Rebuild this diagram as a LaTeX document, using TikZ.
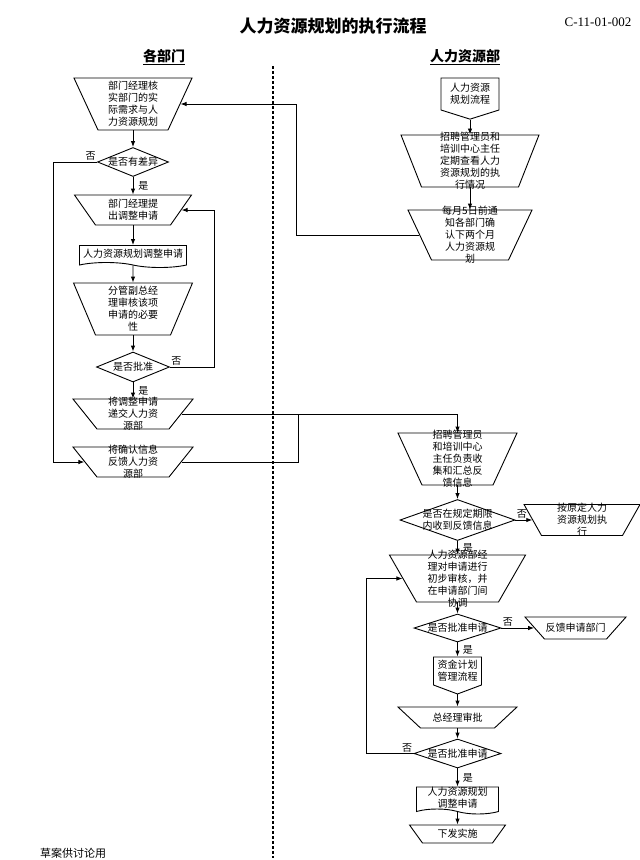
\documentclass[tikz,border=0pt]{standalone}
\usepackage{fontspec}
\setmainfont{Noto Sans CJK SC}
\newfontfamily\codefont{Liberation Serif}
\usetikzlibrary{arrows.meta,shapes.geometric,shapes.symbols}

\begin{document}
\begin{tikzpicture}[x=1pt, y=-1pt, line width=0.9pt,
  trap/.style args={#1/#2/#3}{draw, trapezium, shape border rotate=180, trapezium angle=#1, inner xsep=0.5*#2, inner ysep=0.5*#3},
  ask/.style args={#1/#2}{draw, diamond, minimum width=#1, minimum height=#2, inner sep=0pt},
  doc/.style args={#1/#2}{draw, tape, tape bend top=none, tape bend bottom=out and in, tape bend height=5pt, minimum width=#1, minimum height=#2, inner sep=0pt},
  link/.style args={#1/#2/#3}{draw, signal, signal to=south, signal from=nowhere, signal pointer angle=#1, minimum width=#2, minimum height=#3, inner sep=0pt},
  note/.style={label={[txt]center:{#1}}},
  txt/.style={align=center, inner sep=0pt, font=\fontsize{10}{12}\selectfont},
  yn/.style={font=\fontsize{10}{12}\selectfont, inner sep=1pt},
  arr/.style={-{Latex[length=6pt,width=4.5pt]}},
  head/.style={font=\bfseries\fontsize{14}{16}\selectfont}
]
\useasboundingbox (0,0) rectangle (640,860);

% Title and column heads
\node[font=\bfseries\fontsize{17}{20}\selectfont] (title) at (333,26) {人力资源规划的执行流程};
\node[font=\codefont\fontsize{13}{15}\selectfont] (code) at (598,22) {C-11-01-002};
\node[head] (deptHead) at (164,57) {\underline{各部门}};
\node[head] (hrHead) at (465,57) {\underline{人力资源部}};
\draw[dash pattern=on 3pt off 2pt, line width=1.2pt] (273,66) -- (273,858);

% Departments
\node[trap=65.2/70/52, note={部门经理核\\实部门的实\\际需求与人\\力资源规划}] (check) at (133,104) {};
\node[ask=71/29, note=是否有差异] (diff) at (133,162) {};
\node[trap=55/75/30, note={部门经理提\\出调整申请}] (propose) at (133,210) {};
\node[doc=107/22, note=人力资源规划调整申请] (form) at (133,254) {};
\node[trap=67.1/75/52, note={分管副总经\\理审核该项\\申请的必要\\性}] (vp) at (133,309) {};
\node[ask=73/30, note=是否批准] (vpOk) at (133,367) {};
\node[trap=51.3/72/30, note={将调整申请\\递交人力资\\源部}] (submit) at (133,414) {};
\node[trap=51.3/72/30, note={将确认信息\\反馈人力资\\源部}] (confirm) at (133,462) {};

% HR department
\node[link=145/58/32, note={人力资源\\规划流程}] (plan) at (470,94) {};
\node[trap=68.5/97/52, note={招聘管理员和\\培训中心主任\\定期查看人力\\资源规划的执\\行情况}] (monitor) at (470,161) {};
\node[trap=64.8/77/50, note={每月5日前通\\知各部门确\\认下两个月\\人力资源规\\划}] (notify) at (470,235) {};
\node[trap=65.2/71/52, note={招聘管理员\\和培训中心\\主任负责收\\集和汇总反\\馈信息}] (collect) at (457.5,459) {};
\node[ask=115/41, note={是否在规定期限\\内收到反馈信息}] (inTime) at (457.5,520) {};
\node[trap=60.6/81/31, note={按原定人力\\资源规划执\\行}] (keep) at (582,520) {};
\node[trap=60.1/82/47, note={人力资源部经\\理对申请进行\\初步审核，并\\在申请部门间\\协调}] (hrCheck) at (457.5,578.5) {};
\node[ask=87/28, note=是否批准申请] (hrOk) at (457.5,628) {};
\node[trap=48.4/62/22, note=反馈申请部门] (reject) at (575.5,628) {};
\node[link=139/48/28, note={资金计划\\管理流程}] (fund) at (457.5,671) {};
\node[trap=43/74/21, note=总经理审批] (gm) at (457.5,717.5) {};
\node[ask=87/29, note=是否批准申请] (gmOk) at (457.5,753.5) {};
\node[doc=82/27, note={人力资源规划\\调整申请}] (adjust) at (457.5,798) {};
\node[trap=54.2/70/18, note=下发实施] (issue) at (457.5,834) {};

\node[font=\fontsize{11}{13}\selectfont] (draft) at (73,853) {草案供讨论用};

% Arrows
\foreach \a/\b in {check/diff, propose/form, form/vp, vp/vpOk, plan/monitor, monitor/notify, collect/inTime, hrCheck/hrOk, fund/gm, gm/gmOk, adjust/issue}
  \draw[arr] (\a) -- (\b);
\foreach \a/\b in {diff/propose, vpOk/submit, inTime/hrCheck, hrOk/fund, gmOk/adjust}
  \draw[arr] (\a) -- node[yn, right=4pt] {是} (\b);

\draw[arr] (diff.west) node[yn, above left] {否} -- ++(-44,0) |- (confirm.180);
\draw[arr] (vpOk.east) node[yn, above right] {否} -- ++(44.5,0) |- (propose.0);
\draw[arr] (notify.180) -- ++(-123,0) |- (check.0);
\draw[arr] (submit.0) -| (collect.90);
\draw (confirm.0) -- ++(117,0) coordinate (join) -- (join |- submit.0);

\draw[arr] (inTime.east) node[yn, above right] {否} -- (keep.180);
\draw[arr] (hrOk.east) node[yn, above right] {否} -- (reject.180);
\draw[arr] (gmOk.west) node[yn, above left] {否} -- ++(-47.5,0) |- (hrCheck.180);
\end{tikzpicture}
\end{document}
